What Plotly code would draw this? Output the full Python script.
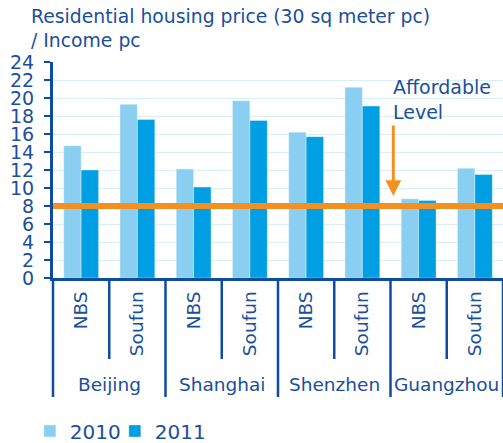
import plotly.graph_objects as go

cities = ["Beijing", "Shanghai", "Shenzhen", "Guangzhou"]
sources = ["NBS", "Soufun"]
years = ["2010", "2011"]
v2010 = [14.7, 19.3, 12.1, 19.7, 16.2, 21.2, 8.8, 12.2]
v2011 = [12.0, 17.6, 10.1, 17.5, 15.7, 19.1, 8.6, 11.5]
affordable_level = 8
y_ticks = list(range(0, 25, 2))
title_text = "Residential housing price (30 sq meter pc)<br>/ Income pc"

DARK = "#1a4f9e"
AXIS = "#0d4c9f"
C2010 = "#8acff1"
C2011 = "#009ee2"
ORANGE = "#f39020"
FONT = "DejaVu Sans"

n = len(cities) * len(sources)
xs = list(range(n))
sub_labels = [s for c in cities for s in sources]

fig = go.Figure()
fig.add_trace(go.Bar(x=xs, y=v2010, name=years[0], legend="legend", showlegend=True,
                     marker=dict(color=C2010, line=dict(color="rgba(255,255,255,0.35)", width=1))))
fig.add_trace(go.Bar(x=xs, y=v2011, name=years[1], legend="legend2", showlegend=True,
                     marker=dict(color=C2011, line=dict(color="rgba(255,255,255,0.35)", width=1))))

shapes = []
shapes.append(dict(type="line", xref="paper", yref="y", x0=0, x1=1, y0=affordable_level, y1=affordable_level,
                   line=dict(color=ORANGE, width=6), layer="above"))
for b in range(n + 1):
    frac = b / n
    is_group = (b % len(sources) == 0)
    shapes.append(dict(type="line", xref="x domain", yref="paper", x0=frac, x1=frac,
                       y0=0, y1=-0.551 if is_group else -0.375,
                       line=dict(color=AXIS, width=2.5)))

annotations = []
annotations.append(dict(x=-0.0534, y=1.27, xref="paper", yref="paper", text=title_text, showarrow=False,
                        xanchor="left", yanchor="top", align="left",
                        font=dict(family=FONT, size=18.8, color=DARK)))
for i, c in enumerate(cities):
    annotations.append(dict(x=i * len(sources) + (len(sources) - 1) / 2, y=-0.495, xref="x", yref="paper",
                            text=c, showarrow=False, font=dict(family=FONT, size=18.5, color=DARK),
                            xanchor="center", yanchor="middle"))
annotations.append(dict(x=5.55, y=9.1, ax=5.55, ay=17.1, xref="x", yref="y", axref="x", ayref="y",
                        text="", showarrow=True, arrowhead=2, arrowsize=1.05, arrowwidth=3, arrowcolor=ORANGE))
annotations.append(dict(x=5.5, y=19.8, xref="x", yref="y", text="Affordable<br>Level", showarrow=False,
                        xanchor="left", yanchor="middle", align="left",
                        font=dict(family=FONT, size=19, color=DARK)))

legend_common = dict(orientation="h", y=-0.708, xanchor="left", yanchor="middle", visible=True,
                     font=dict(family=FONT, size=20, color=DARK), itemwidth=30,
                     bgcolor="rgba(0,0,0,0)")

fig.update_layout(
    width=503, height=443,
    showlegend=True,
    margin=dict(l=53, r=0, t=62, b=165, autoexpand=False),
    paper_bgcolor="white", plot_bgcolor="white",
    barmode="group", bargap=0.38, bargroupgap=0,
    font=dict(family=FONT, color=DARK, size=19),
    xaxis=dict(range=[-0.5, n - 0.5], tickmode="array", tickvals=xs, ticktext=sub_labels,
               tickangle=-90, ticks="", showgrid=False, showline=True, linecolor=AXIS, linewidth=3,
               ticklabelstandoff=3, automargin=False,
               tickfont=dict(family=FONT, size=18.5, color=DARK), zeroline=False),
    yaxis=dict(range=[0, 24], tickmode="array", tickvals=y_ticks, showgrid=True, gridcolor="#d8eff9",
               gridwidth=1, showline=True, linecolor=AXIS, linewidth=3, ticks="outside", ticklen=6,
               tickwidth=2, tickcolor=AXIS, ticklabelstandoff=6, zeroline=False, automargin=False,
               tickfont=dict(family=FONT, size=19, color=DARK)),
    legend=dict(x=-0.0514, **legend_common),
    legend2=dict(x=0.1374, **legend_common),
    shapes=shapes, annotations=annotations,
)

fig.write_html("out.html", config={"displayModeBar": False},
               post_script="document.body.style.margin='0';document.body.style.overflow='hidden';")
